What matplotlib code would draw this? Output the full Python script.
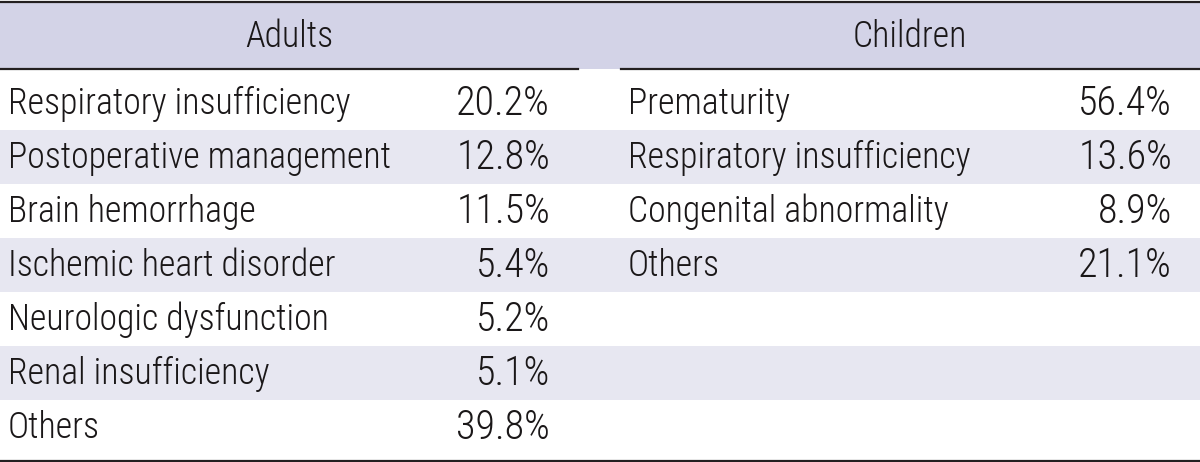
import os
import matplotlib
matplotlib.use("Agg")
import matplotlib.pyplot as plt
from matplotlib import font_manager as fm

adult_labels = ["Respiratory insufficiency", "Postoperative management", "Brain hemorrhage",
                "Ischemic heart disorder", "Neurologic dysfunction", "Renal insufficiency", "Others"]
adult_values = [20.2, 12.8, 11.5, 5.4, 5.2, 5.1, 39.8]
child_labels = ["Prematurity", "Respiratory insufficiency", "Congenital abnormality", "Others"]
child_values = [56.4, 13.6, 8.9, 21.1]
headers = ["Adults", "Children"]

# pick the most suitable installed condensed font file
prefs = ["robotocondensed-light", "roboto_condensed-light", "robotocondensed-regular",
         "roboto_condensed-regular", "liberationsansnarrow-regular", "opensans-condensedlight",
         "opensans_condensed-light", "dejavusanscondensed.", "dejavusanscondensed"]
files = [f.fname for f in fm.fontManager.ttflist]
chosen = None
for p in prefs:
    for fn in files:
        if os.path.basename(fn).lower().startswith(p):
            chosen = fn
            break
    if chosen:
        break
if chosen is None:
    for fn in files:
        b = os.path.basename(fn).lower()
        if ("condensed" in b or "narrow" in b) and "bold" not in b and "oblique" not in b and "italic" not in b:
            chosen = fn
            break
fp = fm.FontProperties(fname=chosen) if chosen else fm.FontProperties(family="DejaVu Sans")

W, H = 1200, 462
fig = plt.figure(figsize=(12, 4.62), dpi=100)
ax = fig.add_axes([0, 0, 1, 1])
ax.set_xlim(0, W)
ax.set_ylim(H, 0)
ax.axis("off")

# choose a size so that the widest label matches the reference width (~342 px)
renderer = fig.canvas.get_renderer()
t = ax.text(0, 100, adult_labels[0], fontproperties=fp, fontsize=27)
wpx = t.get_window_extent(renderer).width
t.remove()
fs = min(30, 27 * 343 / wpx)

header_color = "#d3d3e7"
stripe_color = "#e7e7f1"
line_color = "#231f20"
text_color = "#1a1718"

ax.add_patch(plt.Rectangle((0, 1), W, 68, color=header_color, lw=0))
ax.plot([0, W], [1.5, 1.5], color=line_color, lw=1.6)
ax.plot([0, 578], [68.5, 68.5], color=line_color, lw=1.6)
ax.plot([621, W], [68.5, 68.5], color=line_color, lw=1.6)
ax.plot([0, W], [460.5, 460.5], color=line_color, lw=1.6)

ax.text(289, 37, headers[0], fontproperties=fp, fontsize=fs, ha="center", va="center", color=text_color)
ax.text(910, 37, headers[1], fontproperties=fp, fontsize=fs, ha="center", va="center", color=text_color)

nrows = len(adult_labels)
row_h = 54
for i in range(nrows):
    top = 69 + 7 + i * row_h if i > 0 else 69
    bottom = 69 + 7 + (i + 1) * row_h
    if i % 2 == 1:
        ax.add_patch(plt.Rectangle((0, top), W, bottom - top, color=stripe_color, lw=0))

centers = [69 + 7 + i * row_h + 28 for i in range(nrows)]
pfs = fs * 1.12
for i, (lab, v) in enumerate(zip(adult_labels, adult_values)):
    ax.text(8, centers[i], lab, fontproperties=fp, fontsize=fs, ha="left", va="center", color=text_color)
    ax.text(550, centers[i], f"{v:.1f}%", fontproperties=fp, fontsize=pfs, ha="right", va="center", color=text_color)
for i, (lab, v) in enumerate(zip(child_labels, child_values)):
    ax.text(628, centers[i], lab, fontproperties=fp, fontsize=fs, ha="left", va="center", color=text_color)
    ax.text(1172, centers[i], f"{v:.1f}%", fontproperties=fp, fontsize=pfs, ha="right", va="center", color=text_color)

fig.savefig("out.png", dpi=100)
